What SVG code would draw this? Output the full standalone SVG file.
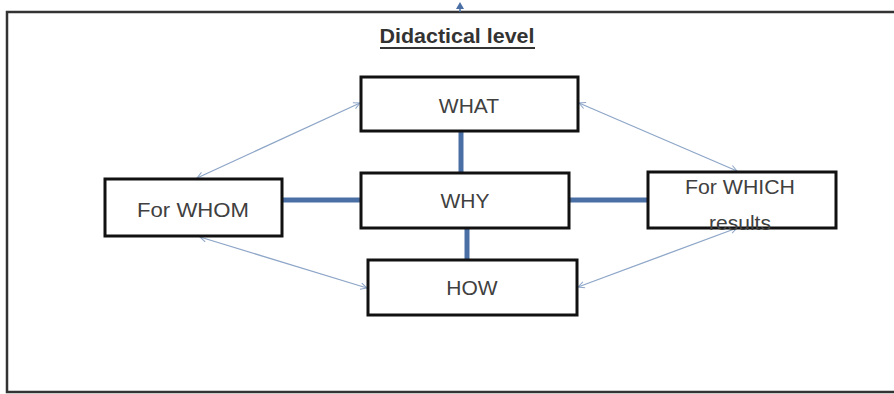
<svg xmlns="http://www.w3.org/2000/svg" width="894" height="394" viewBox="0 0 894 394">
<style>
.box{fill:#fff;stroke:#111;stroke-width:3}
.lbl{font-family:"Liberation Sans",Arial,sans-serif;font-size:21px;fill:#404040;text-anchor:middle}
.thick{stroke:#4a6fa5;stroke-width:5;fill:none}
.thin{stroke:#8ea6c8;stroke-width:1.3;fill:none;marker-start:url(#ah);marker-end:url(#ah)}
</style>
<defs>
<marker id="ah" viewBox="0 0 10 10" refX="9" refY="5" markerWidth="8" markerHeight="8" markerUnits="userSpaceOnUse" orient="auto-start-reverse">
<path d="M1,1 L9,5 L1,9" fill="none" stroke="#8ea6c8" stroke-width="1.3"/>
</marker>
</defs>
<rect width="894" height="394" fill="#fff"/>
<g id="frame">
<path d="M900,12 L7,12 L7,392 L900,392" fill="none" stroke="#333" stroke-width="2.5"/>
<line x1="460" y1="12" x2="460" y2="4" stroke="#4a6fa5" stroke-width="1.5"/>
<path d="M456,9 L460,2 L464,9 Z" fill="#4a6fa5"/>
</g>
<g id="title">
<text x="457" y="43" font-family="'Liberation Sans',Arial,sans-serif" font-size="20" font-weight="bold" fill="#333" text-anchor="middle" textLength="155" lengthAdjust="spacingAndGlyphs">Didactical level</text>
<line x1="380" y1="48" x2="535" y2="48" stroke="#333" stroke-width="1.8"/>
</g>
<g id="connectors">
<line class="thick" x1="461" y1="131" x2="461" y2="173"/>
<line class="thick" x1="467" y1="228" x2="467" y2="260"/>
<line class="thick" x1="282" y1="200" x2="361" y2="200"/>
<line class="thick" x1="569" y1="200" x2="648" y2="200"/>
<line class="thin" x1="197" y1="178" x2="360" y2="103"/>
<line class="thin" x1="579" y1="103" x2="737" y2="171"/>
<line class="thin" x1="200" y1="237" x2="367" y2="288"/>
<line class="thin" x1="737" y1="228" x2="578" y2="287"/>
</g>
<g id="what">
<rect class="box" x="361" y="77" width="217" height="54"/>
<text class="lbl" x="469" y="113">WHAT</text>
</g>
<g id="why">
<rect class="box" x="361" y="173" width="208" height="55"/>
<text class="lbl" x="465" y="208">WHY</text>
</g>
<g id="how">
<rect class="box" x="368" y="260" width="209" height="55"/>
<text class="lbl" x="472" y="295">HOW</text>
</g>
<g id="forwhom">
<rect class="box" x="105" y="179" width="177" height="57"/>
<text class="lbl" x="193" y="217" textLength="112" lengthAdjust="spacingAndGlyphs">For WHOM</text>
</g>
<g id="forwhich">
<rect class="box" x="648" y="172" width="188" height="56"/>
<text class="lbl" x="740" y="194" textLength="110" lengthAdjust="spacingAndGlyphs">For WHICH</text>
<text class="lbl" x="740" y="230">results</text>
</g>
</svg>
